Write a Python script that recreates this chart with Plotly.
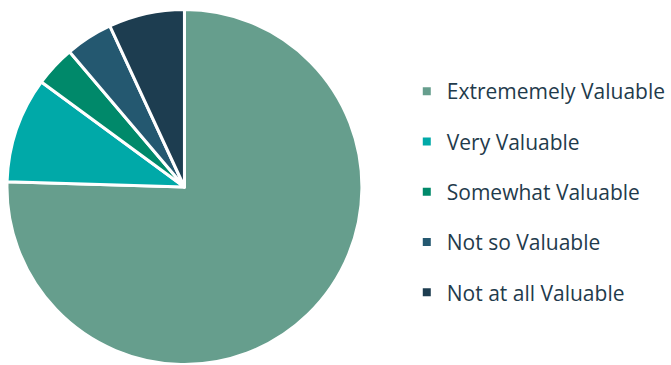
import plotly.graph_objects as go

categories = ["Extrememely Valuable", "Very Valuable", "Somewhat Valuable",
              "Not so Valuable", "Not at all Valuable"]
values = [75.4, 9.6, 3.7, 4.3, 6.9]
colors = ["#669E8D", "#00A9A8", "#00896A", "#245870", "#1D3D50"]

W, H = 671, 365
cx, cy, r = 185, 187, 178

fig = go.Figure()
fig.add_trace(go.Pie(
    labels=categories, values=values, sort=False, direction="clockwise",
    rotation=0, marker=dict(colors=colors, line=dict(color="white", width=3)),
    textinfo="none", hoverinfo="label+percent", showlegend=False,
    domain=dict(x=[(cx - r) / W, (cx + r) / W], y=[1 - (cy + r) / H, 1 - (cy - r) / H]),
))
for i, (c, col) in enumerate(zip(categories, colors)):
    fig.add_trace(go.Scatter(
        x=[None], y=[None], mode="markers", name=c, legendgroup=f"g{i}",
        marker=dict(symbol="square", size=8, color=col),
    ))

fig.update_layout(
    width=W, height=H, margin=dict(l=0, r=0, t=0, b=0),
    paper_bgcolor="white", plot_bgcolor="white",
    xaxis=dict(visible=False), yaxis=dict(visible=False),
    legend=dict(x=408 / W, y=1 - 192 / H, xanchor="left", yanchor="middle",
                font=dict(family="Open Sans", size=21, color="#1F3B4C"),
                tracegroupgap=20, itemwidth=30, bgcolor="rgba(0,0,0,0)"),
)
fig.write_html("out.html")
